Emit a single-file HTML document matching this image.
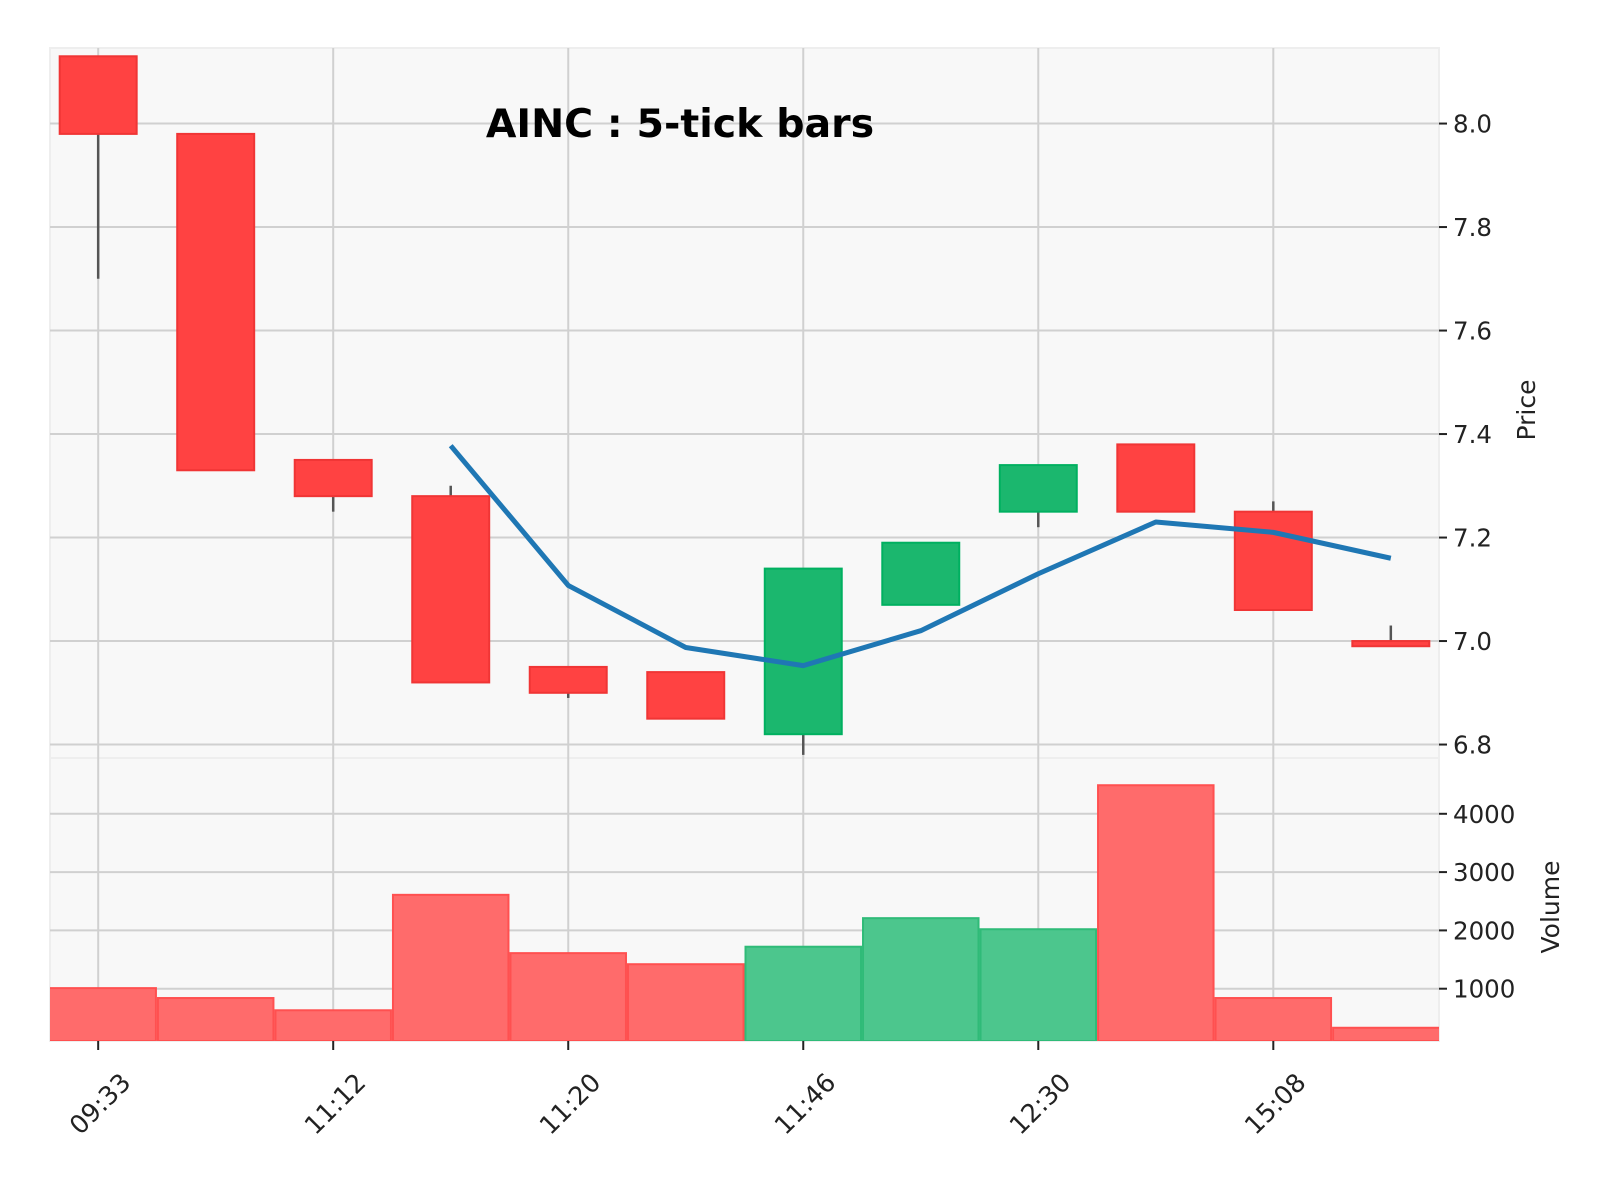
<!DOCTYPE html>
<html><head><meta charset="utf-8"><style>
body{margin:0;background:#fff}
svg{display:block;font-family:"DejaVu Sans","Liberation Sans",sans-serif}
</style></head><body>
<svg id="chart" width="1618" height="1188" viewBox="0 0 1618 1188" xmlns="http://www.w3.org/2000/svg"></svg>
<script>
const labels=["09:33","","11:12","","11:20","","11:46","","12:30","","15:08",""];
const opens=[8.13,7.98,7.35,7.28,6.95,6.94,6.82,7.07,7.25,7.38,7.25,7.00];
const closes=[7.98,7.33,7.28,6.92,6.90,6.85,7.14,7.19,7.34,7.25,7.06,6.99];
const highs=[8.13,7.98,7.35,7.30,6.95,6.94,7.14,7.19,7.34,7.38,7.27,7.03];
const lows=[7.70,7.33,7.25,6.92,6.89,6.85,6.78,7.07,7.22,7.25,7.06,6.99];
const volumes=[1010,840,630,2610,1610,1420,1720,2210,2020,4490,840,330];
const priceTicks=[6.8,7.0,7.2,7.4,7.6,7.8,8.0];
const volTicks=[1000,2000,3000,4000];
const mavPeriod=4;

const NS="http://www.w3.org/2000/svg";
const svg=document.getElementById('chart');
const L=50,R=1439,PT=48,PB=758,VT=758,VB=1041;
const xMin=-0.41,xMax=11.41,pMin=6.774,pMax=8.146,vMin=103,vMax=4957;
const X=i=>L+(i-xMin)/(xMax-xMin)*(R-L);
const Y=p=>PB-(p-pMin)/(pMax-pMin)*(PB-PT);
const VY=v=>VB-(v-vMin)/(vMax-vMin)*(VB-VT);
const unit=(R-L)/(xMax-xMin);
function mk(tag,attrs,parent){const e=document.createElementNS(NS,tag);for(const k in attrs)e.setAttribute(k,attrs[k]);(parent||svg).appendChild(e);return e;}

let e=mk('rect',{x:L,y:PT,width:R-L,height:PB-PT,fill:'#f8f8f8',stroke:'#eeeeee','stroke-width':2});


e=mk('rect',{x:L,y:VT,width:R-L,height:VB-VT,fill:'#f8f8f8',stroke:'#eeeeee','stroke-width':2});



const clipDefs=mk('defs',{});
const cp=mk('clipPath',{id:'vclip'},clipDefs);mk('rect',{x:L,y:VT,width:R-L,height:VB-VT},cp);
const cp2=mk('clipPath',{id:'pclip'},clipDefs);mk('rect',{x:L,y:PT,width:R-L,height:PB-PT},cp2);

priceTicks.forEach(p=>{
 e=mk('line',{x1:L,x2:R,y1:Y(p),y2:Y(p),stroke:'#d0d0d0','stroke-width':2});
 
 
 mk('line',{x1:R,x2:R+8,y1:Y(p),y2:Y(p),stroke:'#222','stroke-width':2});
 e=mk('text',{x:R+14,y:Y(p)+9,'font-size':24.5,fill:'#222'});e.textContent=p.toFixed(1);
 
 
});
volTicks.forEach(v=>{
 e=mk('line',{x1:L,x2:R,y1:VY(v),y2:VY(v),stroke:'#d0d0d0','stroke-width':2});
 
 
 mk('line',{x1:R,x2:R+8,y1:VY(v),y2:VY(v),stroke:'#222','stroke-width':2});
 e=mk('text',{x:R+14,y:VY(v)+9,'font-size':24.5,fill:'#222'});e.textContent=v;
 
 
});
labels.forEach((lb,i)=>{
 if(!lb)return;
 const x=X(i);
 e=mk('line',{x1:x,x2:x,y1:PT,y2:VB,stroke:'#d0d0d0','stroke-width':2});
 
 
 mk('line',{x1:x,x2:x,y1:VB,y2:VB+9,stroke:'#222','stroke-width':2});
 const ax=x+34,ay=VB+43;
 e=mk('text',{x:ax,y:ay,'font-size':25.5,fill:'#222','text-anchor':'end',transform:`rotate(-45 ${ax} ${ay})`});
 e.textContent=lb;
 
 
});

const vg=mk('g',{'clip-path':'url(#vclip)'});
volumes.forEach((v,i)=>{
 const up=closes[i]>=opens[i];
 e=mk('rect',{x:X(i)-unit/2+1,y:VY(v),width:unit-2,height:VB-VY(v),fill:up?'#4cc68d':'#ff6b6b',stroke:up?'#2fbb78':'#ff5050','stroke-width':2},vg);
 
 
});

const pg=mk('g',{'clip-path':'url(#pclip)'});
opens.forEach((o,i)=>{
 const c=closes[i],up=c>=o,x=X(i),w=unit*0.655;
 e=mk('line',{x1:x,x2:x,y1:Y(highs[i]),y2:Y(lows[i]),stroke:'#555','stroke-width':2.5},pg);
 
 
 const top=Y(Math.max(o,c)),bot=Y(Math.min(o,c));
 e=mk('rect',{x:x-w/2,y:top,width:w,height:Math.max(bot-top,1),fill:up?'#1bb76e':'#ff4242',stroke:up?'#00b060':'#f03535','stroke-width':2},pg);
 
 
});

let pts=[];
for(let i=mavPeriod-1;i<closes.length;i++){let s=0;for(let k=0;k<mavPeriod;k++)s+=closes[i-k];pts.push(X(i)+','+Y(s/mavPeriod));}
e=mk('polyline',{points:pts.join(' '),fill:'none',stroke:'#1f77b4','stroke-width':5,'stroke-linejoin':'round'},pg);



e=mk('text',{x:680,y:137,'font-size':39.5,'font-weight':'bold','text-anchor':'middle',fill:'#000'});e.textContent='AINC : 5-tick bars';


e=mk('text',{x:0,y:0,'font-size':25,fill:'#222','text-anchor':'middle',transform:'translate(1535 410) rotate(-90)'});e.textContent='Price';


e=mk('text',{x:0,y:0,'font-size':25,fill:'#222','text-anchor':'middle',transform:'translate(1559 907) rotate(-90)'});e.textContent='Volume';


</script>
</body></html>
